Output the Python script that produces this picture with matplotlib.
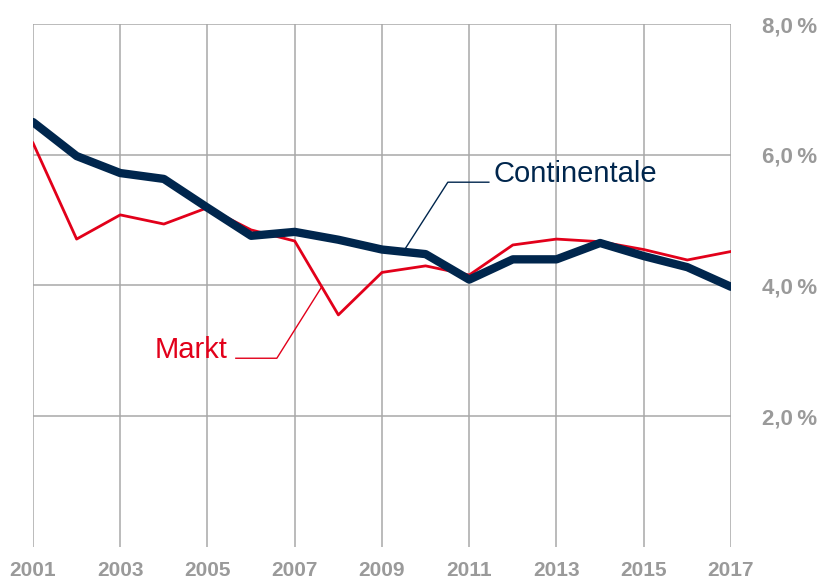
import matplotlib
matplotlib.use("Agg")
import matplotlib.pyplot as plt

years = list(range(2001, 2018))
continentale = [6.50, 5.98, 5.72, 5.63, 5.19, 4.76, 4.82, 4.70, 4.55, 4.48,
                4.09, 4.40, 4.40, 4.65, 4.45, 4.28, 3.98]
markt = [6.18, 4.71, 5.08, 4.94, 5.19, 4.85, 4.68, 3.55, 4.20, 4.30,
         4.16, 4.62, 4.71, 4.67, 4.55, 4.39, 4.52]
x_ticks = list(range(2001, 2018, 2))
y_ticks = [2, 4, 6, 8]
y_labels = ["2,0\u2009%", "4,0\u2009%", "6,0\u2009%", "8,0\u2009%"]

plt.rcParams["font.family"] = ["Liberation Sans", "DejaVu Sans"]

navy = "#00264d"
red = "#e2001a"
grid = "#a8a8a8"

fig = plt.figure(figsize=(8.25, 5.84), dpi=100)
ax = fig.add_axes([0.04, 0.0634, 0.846, 0.8955])

for x in x_ticks:
    ax.axvline(x, color=grid, lw=1.1, zorder=0)
for y in y_ticks:
    ax.axhline(y, color=grid, lw=1.1, zorder=0)

ax.plot(years, markt, color=red, lw=2, zorder=2)
ax.plot(years, continentale, color=navy, lw=6, solid_capstyle="round",
        solid_joinstyle="round", zorder=3)

# leader lines + labels
ax.plot([2009.53, 2010.51, 2011.45], [4.56, 5.58, 5.58], color=navy, lw=1, zorder=4)
ax.text(2011.55, 5.58, "Continentale", color=navy, fontsize=21, va="baseline", ha="left")
ax.plot([2005.65, 2006.59, 2007.62], [2.887, 2.887, 3.98], color=red, lw=1, zorder=4)
ax.text(2005.47, 2.887, "Markt", color=red, fontsize=21, va="baseline", ha="right")

ax.set_xlim(2001, 2017)
ax.set_ylim(0, 8)
ax.set_xticks(x_ticks)
ax.set_xticklabels([str(x) for x in x_ticks])
ax.set_yticks(y_ticks)
ax.set_yticklabels(y_labels)
ax.yaxis.tick_right()
ax.tick_params(axis="both", length=0, colors="#9a9a9a")
ax.tick_params(axis="x", pad=10, labelsize=15)
ax.tick_params(axis="y", pad=22, labelsize=16)
for lab in ax.get_xticklabels() + ax.get_yticklabels():
    lab.set_fontweight("bold")
for s in ax.spines.values():
    s.set_visible(False)

fig.savefig("out.png", dpi=100)
